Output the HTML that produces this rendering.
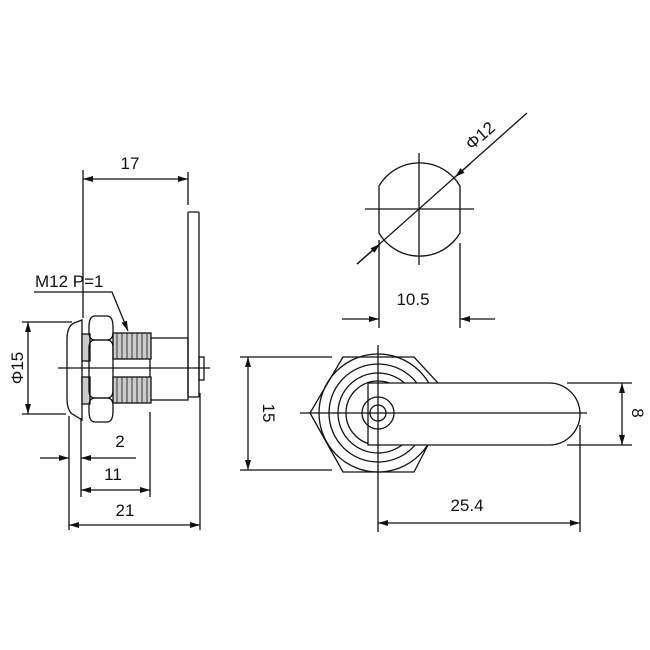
<!DOCTYPE html>
<html><head><meta charset="utf-8"><style>
html,body{margin:0;padding:0;background:#fff;}
svg{display:block}
text{font-family:"Liberation Sans",sans-serif;font-size:17px;fill:#111}
</style></head><body>
<svg width="650" height="650" viewBox="0 0 650 650" xmlns="http://www.w3.org/2000/svg">
<defs>
<marker id="a" viewBox="0 0 10 6" refX="10" refY="3" markerWidth="12" markerHeight="6" markerUnits="userSpaceOnUse" orient="auto-start-reverse"><path d="M0,0 L10,3 L0,6z" fill="#111"/></marker>
</defs>
<g stroke="#111" stroke-width="1.3" fill="none">
<!-- LEFT VIEW -->
<line x1="83" y1="170" x2="83" y2="318"/>
<line x1="81" y1="418" x2="81" y2="497"/>
<line x1="188" y1="172" x2="188" y2="205"/>
<line x1="83" y1="179" x2="188" y2="179" marker-start="url(#a)" marker-end="url(#a)"/>
<rect x="188" y="212" width="11" height="185" rx="1"/>
<rect x="199" y="357" width="5" height="23"/>
<rect x="150" y="338" width="38" height="62"/>
<path d="M82,320 L74,323 Q67,326 67,340 L67,398 Q67,412 74,415 L82,420 Z"/>
<rect x="82" y="334" width="8" height="27" fill="#ccc"/>
<rect x="82" y="377" width="8" height="27" fill="#ccc"/>
<path d="M95,316 h12 q6,0 6,11 v5 q0,8 -6,8 h-12 q-6,0 -6,-8 v-5 q0,-11 6,-11z"/>
<path d="M95,340 h12 q6,0 6,8 v42 q0,8 -6,8 h-12 q-6,0 -6,-8 v-42 q0,-8 6,-8z"/>
<path d="M95,398 h12 q6,0 6,8 v5 q0,11 -6,11 h-12 q-6,0 -6,-11 v-5 q0,-8 6,-8z"/>
<rect x="113" y="333" width="38" height="26" fill="#ccc"/>
<rect x="113" y="377" width="38" height="26" fill="#ccc"/>
<path d="M117,333v26M122,333v26M127,333v26M132,333v26M137,333v26M142,333v26M147,333v26M117,377v26M122,377v26M127,377v26M132,377v26M137,377v26M142,377v26M147,377v26" stroke-width="0.8"/>
<line x1="58" y1="368" x2="210" y2="368"/>
<line x1="22" y1="322" x2="72" y2="322"/>
<line x1="22" y1="414" x2="66" y2="414"/>
<line x1="28" y1="322" x2="28" y2="414" marker-start="url(#a)" marker-end="url(#a)"/>
<polyline points="34,292 112,292 128,331" marker-end="url(#a)"/>
<line x1="69" y1="416" x2="69" y2="530"/>
<line x1="150" y1="412" x2="150" y2="497"/>
<line x1="200" y1="393" x2="200" y2="530"/>
<line x1="40" y1="458" x2="69" y2="458" marker-end="url(#a)"/>
<line x1="136" y1="458" x2="81" y2="458" marker-end="url(#a)"/>
<line x1="81" y1="490" x2="150" y2="490" marker-start="url(#a)" marker-end="url(#a)"/>
<line x1="69" y1="525" x2="200" y2="525" marker-start="url(#a)" marker-end="url(#a)"/>
<!-- TOP VIEW -->
<path d="M379,186 A47,47 0 0 1 460,186 L460,233 A47,47 0 0 1 379,233 Z"/>
<line x1="419" y1="153" x2="419" y2="265"/>
<line x1="365" y1="209" x2="474" y2="209"/>
<line x1="357" y1="264" x2="527" y2="113"/>
<line x1="357" y1="264" x2="380" y2="244" marker-end="url(#a)"/>
<line x1="470" y1="164" x2="455" y2="177" marker-end="url(#a)"/>
<line x1="379" y1="240" x2="379" y2="328"/>
<line x1="460" y1="243" x2="460" y2="328"/>
<line x1="342" y1="319" x2="379" y2="319" marker-end="url(#a)"/>
<line x1="495" y1="319" x2="460" y2="319" marker-end="url(#a)"/>
<!-- RIGHT VIEW -->
<line x1="240" y1="357" x2="332" y2="357"/>
<line x1="240" y1="470" x2="332" y2="470"/>
<line x1="248" y1="357" x2="248" y2="470" marker-start="url(#a)" marker-end="url(#a)"/>
<path d="M438,383 L414,357 L343,357 L310,413 L343,472 L414,472 L428,445"/>
<circle cx="378" cy="413" r="59"/>
<circle cx="378" cy="413" r="49"/>
<circle cx="378" cy="413" r="40"/>
<circle cx="378" cy="413" r="32"/>
<path d="M368,383 L549,383 A31,31 0 0 1 549,445 L368,445 Z" fill="#fff"/>
<circle cx="378" cy="413" r="16"/>
<circle cx="378" cy="413" r="8"/>
<line x1="300" y1="413" x2="587" y2="413"/>
<line x1="378" y1="345" x2="378" y2="532"/>
<line x1="567" y1="383" x2="632" y2="383"/>
<line x1="567" y1="445" x2="632" y2="445"/>
<line x1="622" y1="383" x2="622" y2="445" marker-start="url(#a)" marker-end="url(#a)"/>
<line x1="580" y1="425" x2="580" y2="532"/>
<line x1="378" y1="523" x2="580" y2="523" marker-start="url(#a)" marker-end="url(#a)"/>
</g>
<text x="130" y="169" text-anchor="middle">17</text>
<text x="35" y="287">M12 P=1</text>
<text transform="translate(23,368) rotate(-90)" text-anchor="middle">Φ15</text>
<text x="120" y="447" text-anchor="middle">2</text>
<text x="113" y="480" text-anchor="middle">11</text>
<text x="125" y="516" text-anchor="middle">21</text>
<text x="413" y="305" text-anchor="middle">10.5</text>
<text transform="translate(484,140) rotate(-41)" text-anchor="middle">Φ12</text>
<text transform="translate(263,413) rotate(90)" text-anchor="middle">15</text>
<text transform="translate(632,413) rotate(90)" text-anchor="middle">8</text>
<text x="467" y="511" text-anchor="middle">25.4</text>
</svg>
</body></html>
